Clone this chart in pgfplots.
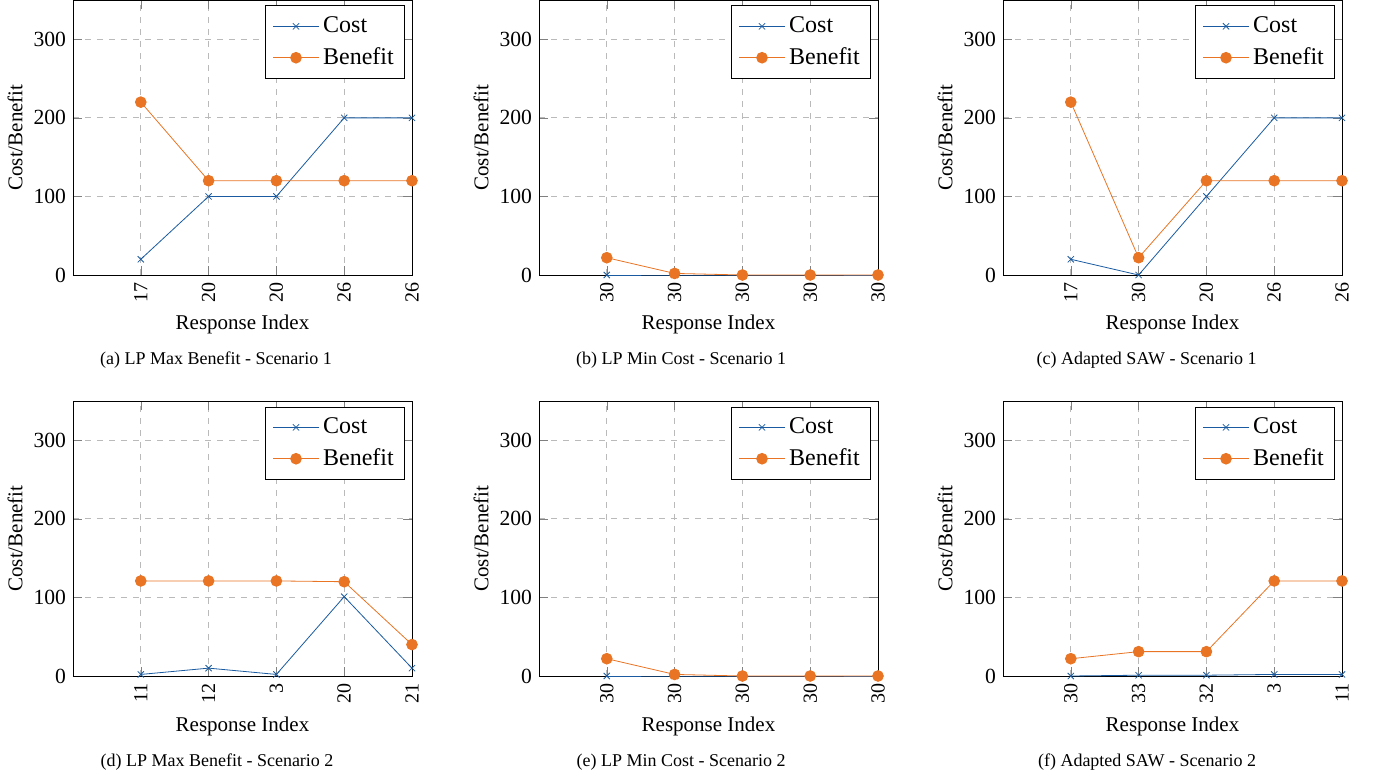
\documentclass[border=0pt]{standalone}
\usepackage{fontspec}
\setmainfont{Liberation Serif}
\usepackage{pgfplots}
\pgfplotsset{compat=1.18}
\definecolor{cblue}{RGB}{25,90,160}
\definecolor{corange}{RGB}{232,116,36}
\pgfplotsset{cb/.style={
  scale only axis, width=169.5pt, height=137.5pt, anchor=south west,
  xmin=0, xmax=5, ymin=0, ymax=350,
  xtick={1,2,3,4,5}, ytick={0,100,200,300},
  grid=major, grid style={dashed, black!27},
  /pgf/number format/assume math mode=true,
  yticklabel style={font=\fontsize{10.8}{12}\selectfont},
  xticklabel style={rotate=90, anchor=east, font=\fontsize{10}{12}\selectfont},
  xlabel={Response Index}, ylabel={Cost/Benefit},
  label style={font=\fontsize{10.5}{12}\selectfont},
  xlabel style={at={(axis description cs:0.5,-0.2)}, anchor=base},
  ylabel style={at={(axis description cs:-0.171,0.5)}, anchor=center},
  legend style={font=\fontsize{12}{14}\selectfont, at={(0.98,0.98)}, anchor=north east, draw=black,
    row sep=2pt, inner xsep=3.5pt, inner ysep=3.5pt},
  legend cell align=left,
  legend image code/.code={\draw[mark repeat=2,mark phase=2] plot coordinates {(0cm,0cm)(0.4cm,0cm)(0.8cm,0cm)};},
  clip=false,
  cost/.style={color=cblue, mark=x, mark size=2.2pt},
  ben/.style={color=corange, mark=*, mark size=2.7pt},
}}
\begin{document}
\begin{tikzpicture}
\path[use as bounding box] (0,0) rectangle (687pt,388pt);
% (a)
\begin{axis}[cb, at={(36.5pt,250.5pt)}, xticklabels={17,20,20,26,26}]
\addplot[cost] coordinates {(1,20)(2,100)(3,100)(4,200)(5,200)};
\addplot[ben] coordinates {(1,220)(2,120)(3,120)(4,120)(5,120)};
\legend{Cost,Benefit}
\end{axis}
% (b)
\begin{axis}[cb, at={(269.5pt,250.5pt)}, xticklabels={30,30,30,30,30}]
\addplot[cost] coordinates {(1,0)(2,0)(3,0)(4,0)(5,0)};
\addplot[ben] coordinates {(1,22)(2,2)(3,0)(4,0)(5,0)};
\legend{Cost,Benefit}
\end{axis}
% (c)
\begin{axis}[cb, at={(501.5pt,250.5pt)}, xticklabels={17,30,20,26,26}]
\addplot[cost] coordinates {(1,20)(2,0)(3,100)(4,200)(5,200)};
\addplot[ben] coordinates {(1,220)(2,22)(3,120)(4,120)(5,120)};
\legend{Cost,Benefit}
\end{axis}
% (d)
\begin{axis}[cb, at={(36.5pt,50pt)}, xticklabels={11,12,3,20,21}]
\addplot[cost] coordinates {(1,2)(2,10)(3,2)(4,101)(5,10)};
\addplot[ben] coordinates {(1,121)(2,121)(3,121)(4,120)(5,40)};
\legend{Cost,Benefit}
\end{axis}
% (e)
\begin{axis}[cb, at={(269.5pt,50pt)}, xticklabels={30,30,30,30,30}]
\addplot[cost] coordinates {(1,0)(2,0)(3,0)(4,0)(5,0)};
\addplot[ben] coordinates {(1,22)(2,2)(3,0)(4,0)(5,0)};
\legend{Cost,Benefit}
\end{axis}
% (f)
\begin{axis}[cb, at={(501.5pt,50pt)}, xticklabels={30,33,32,3,11}]
\addplot[cost] coordinates {(1,0)(2,1)(3,1)(4,2)(5,2)};
\addplot[ben] coordinates {(1,22)(2,31)(3,31)(4,121)(5,121)};
\legend{Cost,Benefit}
\end{axis}
\begin{scope}[every node/.style={anchor=base, font=\fontsize{9}{11}\selectfont}]
\node at (108pt,205.5pt) {(a) LP Max Benefit - Scenario 1};
\node at (340.5pt,205.5pt) {(b) LP Min Cost - Scenario 1};
\node at (573.25pt,205.5pt) {(c) Adapted SAW - Scenario 1};
\node at (108.5pt,5pt) {(d) LP Max Benefit - Scenario 2};
\node at (340.5pt,5pt) {(e) LP Min Cost - Scenario 2};
\node at (573.5pt,5pt) {(f) Adapted SAW - Scenario 2};
\end{scope}
\end{tikzpicture}
\end{document}
